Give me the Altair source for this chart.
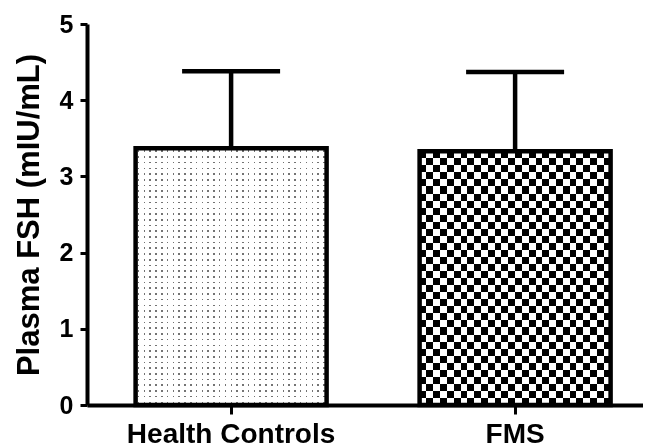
import altair as alt
import pandas as pd

groups = ["Health Controls", "FMS"]
means = [3.37, 3.33]
upper = [4.38, 4.37]

df = pd.DataFrame({"group": groups, "mean": means, "upper": upper})

FONT = "Liberation Sans"


def banded(n, on, off, a, b, vertical):
    """Linear gradient made of n repeated periods; within each period the
    fraction [a, b] is `on`, the rest `off` (a pure fill style)."""
    stops = []
    for i in range(n):
        s = i / n
        w = 1 / n
        stops += [
            {"offset": s, "color": off},
            {"offset": s + a * w, "color": off},
            {"offset": s + a * w, "color": on},
            {"offset": s + b * w, "color": on},
            {"offset": s + b * w, "color": off},
            {"offset": s + w, "color": off},
        ]
    if vertical:
        return {"gradient": "linear", "x1": 0, "y1": 0, "x2": 1, "y2": 0, "stops": stops}
    return {"gradient": "linear", "x1": 0, "y1": 0, "x2": 0, "y2": 1, "stops": stops}


x_enc = alt.X(
    "group:N",
    sort=groups,
    scale=alt.Scale(paddingInner=0.3275, paddingOuter=0.1426, align=0.6),
    axis=alt.Axis(
        title=None,
        labelAngle=0,
        labelFont=FONT,
        labelFontSize=28,
        labelFontWeight="bold",
        labelColor="black",
        labelPadding=6,
        labelLimit=400,
        domainColor="black",
        domainWidth=4,
        tickColor="black",
        tickWidth=3,
        tickSize=9,
    ),
)
y_enc = alt.Y(
    "mean:Q",
    scale=alt.Scale(domain=[0, 5], nice=False, zero=True),
    axis=alt.Axis(
        title="Plasma FSH (mIU/mL)",
        titleFont=FONT,
        titleFontSize=31,
        titleFontWeight="bold",
        titleColor="black",
        titlePadding=14,
        values=[0, 1, 2, 3, 4, 5],
        format="d",
        grid=False,
        labelFont=FONT,
        labelFontSize=25,
        labelFontWeight="bold",
        labelColor="black",
        labelPadding=7,
        domainColor="black",
        domainWidth=4,
        tickColor="black",
        tickWidth=3,
        tickSize=7,
    ),
)

base = alt.Chart(df)

hc = base.transform_filter(alt.datum.group == groups[0])
fms = base.transform_filter(alt.datum.group == groups[1])

# dotted fill (Health Controls)
hc_a = hc.mark_bar(fill=banded(45, "#737373", "white", 0.4, 0.68, False), strokeWidth=0).encode(x=x_enc, y=y_enc)
hc_b = hc.mark_bar(fill=banded(33, "#737373", "white", 0.4, 0.66, True), strokeWidth=0, blend="lighten").encode(x=x_enc, y=y_enc)

# checkerboard fill (FMS)
fms_a = fms.mark_bar(fill=banded(18, "black", "white", 0.5, 1.0, False), strokeWidth=0).encode(x=x_enc, y=y_enc)
fms_b = fms.mark_bar(fill=banded(14, "black", "white", 0.5, 1.0, True), strokeWidth=0, blend="difference").encode(x=x_enc, y=y_enc)

outline = base.mark_bar(fillOpacity=0, stroke="black", strokeWidth=4.5).encode(x=x_enc, y=y_enc)

stem = base.mark_rule(color="black", strokeWidth=4.5, opacity=1).encode(x=x_enc, y="mean:Q", y2="upper:Q")
cap = base.mark_tick(color="black", orient="horizontal", size=98, thickness=4.5, opacity=1).encode(x=x_enc, y="upper:Q")

chart = (
    alt.layer(hc_a, hc_b, fms_a, fms_b, stem, outline, cap)
    .properties(
        width=556,
        height=381,
        autosize=alt.AutoSizeParams(type="none"),
        padding={"left": 79, "top": 16, "right": 0, "bottom": 43},
        background="white",
    )
    .configure_view(stroke="transparent")
)

chart.save("out.html", embed_options={"renderer": "svg", "actions": False})
